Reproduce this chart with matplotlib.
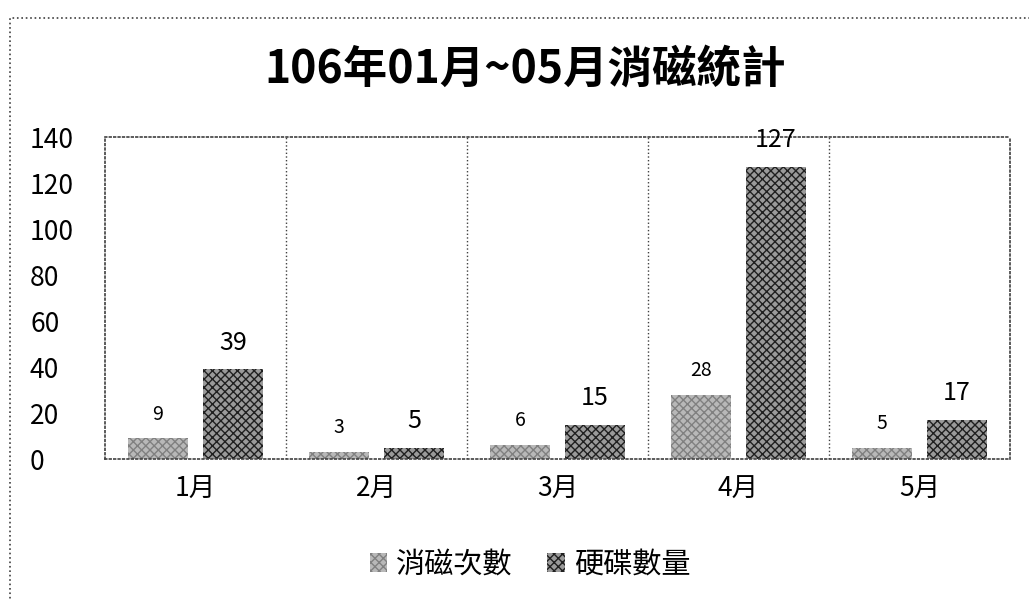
import matplotlib.pyplot as plt
import matplotlib.patches as mpatches
import numpy as np

plt.rcParams['font.family'] = ['Noto Sans CJK TC', 'DejaVu Sans']
plt.rcParams['hatch.linewidth'] = 1.0

meses = ['1月', '2月', '3月', '4月', '5月']
veces = [9, 3, 6, 28, 5]
discos = [39, 5, 15, 127, 17]
series = ['消磁次數', '硬碟數量']

fig = plt.figure(figsize=(10.29, 6), dpi=100)
ax = fig.add_axes([105 / 1029, 1 - 459 / 600, (1010 - 105) / 1029, (459 - 137) / 600])

x = np.arange(len(meses))
ancho = 0.33
b1 = ax.bar(x - 0.207, veces, width=ancho, color='#b8b8b8', edgecolor='#808080',
            hatch='xxxx', linewidth=0, label=series[0])
b2 = ax.bar(x + 0.207, discos, width=ancho, color='#9a9a9a', edgecolor='#202020',
            hatch='xxxx', linewidth=0, label=series[1])

for rect, v in zip(b1, veces):
    ax.text(rect.get_x() + rect.get_width() / 2, v + 6, str(v),
            ha='center', va='bottom', fontsize=14)
for rect, v in zip(b2, discos):
    ax.text(rect.get_x() + rect.get_width() / 2, v + 6, str(v),
            ha='center', va='bottom', fontsize=18)

ax.set_xlim(-0.5, len(meses) - 0.5)
ax.set_ylim(0, 140)
ax.set_yticks(range(0, 141, 20))
ax.set_xticks(x)
ax.set_xticklabels(meses, fontsize=19)
ax.tick_params(axis='y', labelsize=19, length=0, pad=54)
ax.tick_params(axis='x', length=0, pad=12)
for lbl in ax.get_yticklabels():
    lbl.set_horizontalalignment('left')
for s in ax.spines.values():
    s.set_linestyle(':')
    s.set_linewidth(1.2)
    s.set_color('#404040')
for k in range(1, len(meses)):
    ax.axvline(k - 0.5, color='#404040', linestyle=':', linewidth=1.0)

fig.text(0.51, 1 - 70 / 600, '106年01月~05月消磁統計', ha='center', va='center',
         fontsize=32, fontweight='bold')

fig.legend(handles=[b1, b2], labels=series, loc='center', bbox_to_anchor=(0.515, 1 - 565 / 600),
           ncol=2, frameon=False, fontsize=21, handlelength=0.6, handleheight=0.6,
           handletextpad=0.3, columnspacing=1.2)

fig.patches.append(mpatches.Rectangle((10 / 1029, -0.1), 1.2, 1 - 18 / 600 + 0.1,
                                      transform=fig.transFigure, fill=False,
                                      linestyle=':', linewidth=1.2, edgecolor='#404040'))

fig.savefig('out.png', dpi=100)
